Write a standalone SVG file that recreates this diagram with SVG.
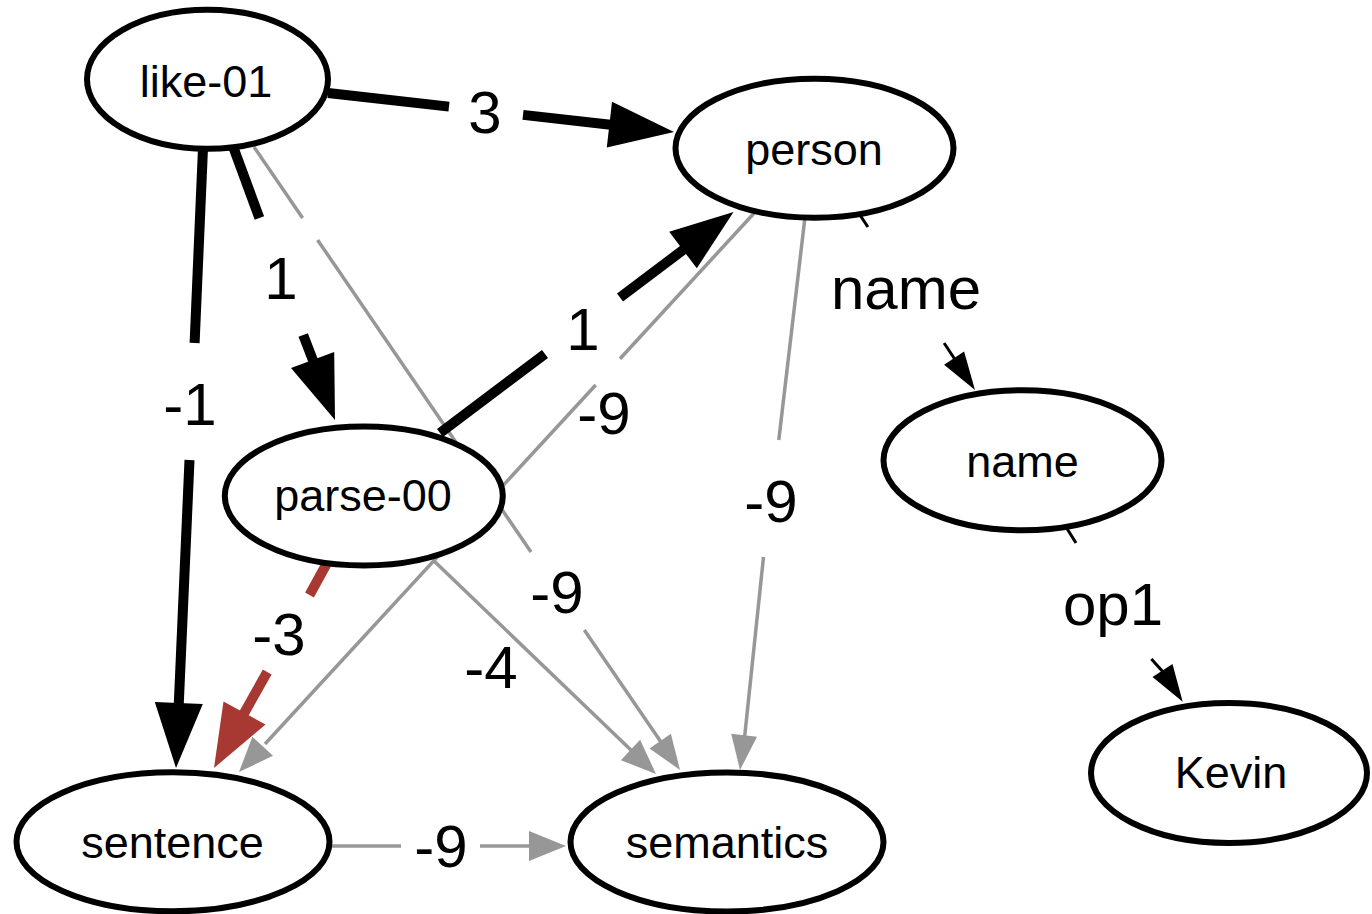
<svg xmlns="http://www.w3.org/2000/svg" width="1372" height="914" viewBox="0 0 1372 914">
  <style>
    .bg { fill: #ffffff; }
    .node ellipse { fill: #ffffff; stroke: #000000; stroke-width: 6; }
    .node text { font-family: "Liberation Sans", Arial, sans-serif; font-size: 45px; fill: #000000; text-anchor: middle; }
    .thick { stroke: #000000; stroke-width: 10; fill: none; stroke-linecap: butt; }
    .red { stroke: #a83832; stroke-width: 10; fill: none; stroke-linecap: butt; }
    .gray { stroke: #979797; stroke-width: 3.5; fill: none; }
    .thin { stroke: #000000; stroke-width: 3; fill: none; }
    .ah-black { fill: #000000; }
    .ah-red { fill: #a83832; }
    .ah-gray { fill: #979797; }
    .elabel { font-family: "Liberation Sans", Arial, sans-serif; font-size: 60px; fill: #000000; text-anchor: middle; }
  </style>
  <rect class="bg" x="0" y="0" width="1372" height="914"/>

  <g id="connectors">
    <!-- like-01 -> person (3) -->
    <g id="e-like-person">
      <line class="thick" x1="328" y1="93" x2="449" y2="106.6"/>
      <line class="thick" x1="523" y1="114.9" x2="615" y2="125.3"/>
      <polygon class="ah-black" points="674,132 606.8,147.6 612,101.8"/>
      <text class="elabel" x="485" y="133">3</text>
    </g>
    <!-- like-01 -> parse-00 (1) -->
    <g id="e-like-parse">
      <line class="thick" x1="233.6" y1="148" x2="259.4" y2="218"/>
      <line class="thick" x1="303.2" y1="335" x2="314" y2="363"/>
      <polygon class="ah-black" points="335,420 334.2,352 291,368"/>
      <text class="elabel" x="281" y="299">1</text>
    </g>
    <!-- like-01 -> sentence (-1) -->
    <g id="e-like-sentence">
      <line class="thick" x1="203" y1="148" x2="194.6" y2="343"/>
      <line class="thick" x1="189.5" y1="460" x2="178.6" y2="708"/>
      <polygon class="ah-black" points="176,768 202.8,704 154.8,702"/>
      <text class="elabel" x="190" y="425">-1</text>
    </g>
    <!-- like-01 -> semantics (-9) -->
    <g id="e-like-semantics">
      <line class="gray" x1="254" y1="147" x2="302.6" y2="218"/>
      <line class="gray" x1="317.6" y1="240" x2="531" y2="552"/>
      <line class="gray" x1="584.3" y1="630" x2="662" y2="743.6"/>
      <polygon class="ah-gray" points="680,770 670.9,733.8 649.5,748.4"/>
      <text class="elabel" x="557" y="613">-9</text>
    </g>
    <!-- parse-00 -> person (1) -->
    <g id="e-parse-person">
      <line class="thick" x1="440" y1="433" x2="545" y2="353.9"/>
      <line class="thick" x1="620" y1="297.4" x2="687" y2="247"/>
      <polygon class="ah-black" points="733.5,212 696.8,268.3 669.2,231.7"/>
      <text class="elabel" x="583" y="350">1</text>
    </g>
    <!-- person -> sentence (-9) -->
    <g id="e-person-sentence">
      <line class="gray" x1="757" y1="210" x2="620" y2="358.7"/>
      <line class="gray" x1="595.7" y1="385" x2="265" y2="744"/>
      <polygon class="ah-gray" points="239,772 273,755.8 252.4,736.8"/>
      <text class="elabel" x="604" y="434">-9</text>
    </g>
    <!-- person -> semantics (-9) -->
    <g id="e-person-semantics">
      <line class="gray" x1="805" y1="217" x2="778.8" y2="440"/>
      <line class="gray" x1="763.5" y1="557" x2="744.5" y2="738"/>
      <polygon class="ah-gray" points="740,770 757,736.7 731.2,733.7"/>
      <text class="elabel" x="771" y="522">-9</text>
    </g>
    <!-- parse-00 -> sentence (-3) -->
    <g id="e-parse-sentence">
      <line class="red" x1="327.6" y1="562" x2="309.5" y2="595"/>
      <line class="red" x1="267.2" y1="672" x2="242" y2="717"/>
      <polygon class="ah-red" points="214,768 265.5,724.6 223.5,701.4"/>
      <text class="elabel" x="279" y="655">-3</text>
    </g>
    <!-- parse-00 -> semantics (-4) -->
    <g id="e-parse-semantics">
      <line class="gray" x1="433" y1="560" x2="633" y2="752"/>
      <polygon class="ah-gray" points="656,774 640.1,739.8 620.9,760.2"/>
      <text class="elabel" x="491" y="688">-4</text>
    </g>
    <!-- sentence -> semantics (-9) -->
    <g id="e-sentence-semantics">
      <line class="gray" x1="330" y1="846" x2="401" y2="846"/>
      <line class="gray" x1="480" y1="846" x2="532" y2="846"/>
      <polygon class="ah-gray" points="566,846 529,831 529,861"/>
      <text class="elabel" x="441" y="867">-9</text>
    </g>
    <!-- person -> name (name) -->
    <g id="e-person-name">
      <line class="thin" x1="858" y1="212" x2="867.9" y2="227"/>
      <line class="thin" x1="944.1" y1="343" x2="956" y2="361"/>
      <polygon class="ah-black" points="975,390 964.1,351.6 944.1,364.8"/>
      <text class="elabel" x="906" y="309">name</text>
    </g>
    <!-- name -> Kevin (op1) -->
    <g id="e-name-kevin">
      <line class="thin" x1="1066" y1="527" x2="1076" y2="543"/>
      <line class="thin" x1="1151.4" y1="659" x2="1164" y2="673"/>
      <polygon class="ah-black" points="1182.7,701.7 1172.5,664 1152.5,677"/>
      <text class="elabel" x="1113" y="625">op1</text>
    </g>
  </g>

  <g id="node-like-01" class="node">
    <ellipse cx="207.5" cy="79.2" rx="120.5" ry="69.5"/>
    <text x="206" y="96.5">like-01</text>
  </g>
  <g id="node-person" class="node">
    <ellipse cx="814.5" cy="148.2" rx="139" ry="69.5"/>
    <text x="814" y="165">person</text>
  </g>
  <g id="node-parse-00" class="node">
    <ellipse cx="363.8" cy="496" rx="139" ry="69.5"/>
    <text x="363" y="511">parse-00</text>
  </g>
  <g id="node-name" class="node">
    <ellipse cx="1022.5" cy="460.3" rx="139" ry="70"/>
    <text x="1022.5" y="476.5">name</text>
  </g>
  <g id="node-sentence" class="node">
    <ellipse cx="173" cy="841.8" rx="156.5" ry="69.5"/>
    <text x="172.5" y="857.5">sentence</text>
  </g>
  <g id="node-semantics" class="node">
    <ellipse cx="727" cy="842" rx="156.5" ry="69.5"/>
    <text x="727" y="857.5">semantics</text>
  </g>
  <g id="node-Kevin" class="node">
    <ellipse cx="1229" cy="773" rx="138" ry="70"/>
    <text x="1231" y="788">Kevin</text>
  </g>
</svg>
